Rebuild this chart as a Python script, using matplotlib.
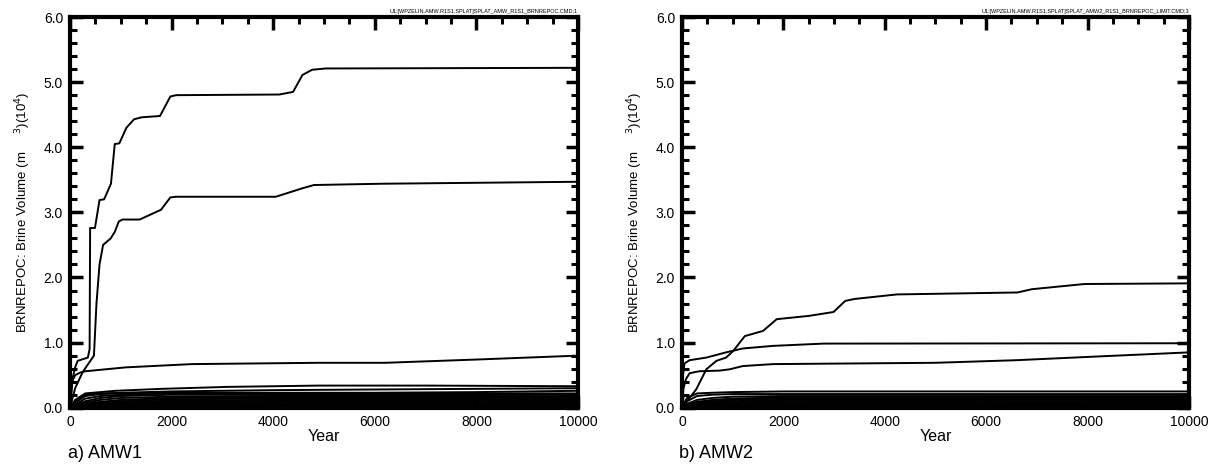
import matplotlib

matplotlib.use("Agg")
import matplotlib.pyplot as plt
from matplotlib.ticker import MultipleLocator

plt.rcParams["font.family"] = ["Liberation Sans", "DejaVu Sans"]

# ---- panel a) AMW1 : the prominent realizations ----
A_TOP_X = [0, 50, 100, 150, 350, 385, 395, 490, 580, 670, 805, 880, 970,
           1110, 1260, 1410, 1770, 1975, 2090, 4120, 4390, 4575, 4765, 5030, 10000]
A_TOP_Y = [0, 0.45, 0.62, 0.72, 0.77, 0.9, 2.76, 2.76, 3.19, 3.20, 3.44, 4.05, 4.06,
           4.30, 4.43, 4.46, 4.48, 4.78, 4.80, 4.81, 4.85, 5.11, 5.19, 5.21, 5.22]
A_SEC_X = [0, 100, 250, 400, 470, 520, 580, 650, 800, 880, 960, 1030, 1370,
           1790, 1975, 2090, 4050, 4575, 4800, 6150, 10000]
A_SEC_Y = [0, 0.3, 0.55, 0.72, 0.8, 1.6, 2.2, 2.5, 2.6, 2.7, 2.86, 2.89, 2.89,
           3.04, 3.23, 3.24, 3.24, 3.37, 3.42, 3.44, 3.47]
A_MID_X = [0, 40, 100, 200, 300, 1100, 2400, 4900, 6200, 8000, 10000]
A_MID_Y = [0, 0.4, 0.5, 0.54, 0.56, 0.62, 0.67, 0.69, 0.69, 0.74, 0.8]
A_LOW1_X = [0, 100, 300, 900, 1800, 3100, 4900, 7000, 10000]
A_LOW1_Y = [0, 0.12, 0.22, 0.26, 0.29, 0.32, 0.34, 0.34, 0.33]

# ---- panel b) AMW2 ----
B_TOP_X = [0, 80, 280, 480, 680, 870, 1010, 1240, 1600, 1870, 2500, 2990,
           3220, 3400, 4240, 6620, 6900, 7940, 10000]
B_TOP_Y = [0, 0.08, 0.28, 0.59, 0.72, 0.77, 0.87, 1.10, 1.18, 1.36, 1.41, 1.47,
           1.64, 1.67, 1.74, 1.77, 1.82, 1.90, 1.91]
B_SEC_X = [0, 20, 50, 150, 480, 870, 1200, 1800, 2800, 10000]
B_SEC_Y = [0, 0.5, 0.68, 0.73, 0.77, 0.85, 0.91, 0.95, 0.985, 0.99]
B_MID_X = [0, 30, 80, 150, 340, 740, 940, 1200, 1800, 5000, 6600, 8000, 10000]
B_MID_Y = [0, 0.3, 0.44, 0.53, 0.56, 0.57, 0.59, 0.64, 0.67, 0.69, 0.73, 0.78, 0.85]

# the bundle of small realizations, sampled at common years
LOW_T = [0, 100, 300, 600, 1000, 2000, 4000, 6000, 8000, 10000]
A_LOW = [
    [0, 0.10, 0.20, 0.22, 0.23, 0.25, 0.27, 0.28, 0.29, 0.30],
    [0, 0.08, 0.18, 0.21, 0.22, 0.23, 0.23, 0.23, 0.24, 0.26],
    [0, 0.05, 0.14, 0.18, 0.20, 0.22, 0.22, 0.22, 0.22, 0.22],
    [0, 0.04, 0.10, 0.15, 0.18, 0.20, 0.20, 0.20, 0.20, 0.21],
    [0, 0.03, 0.08, 0.12, 0.15, 0.17, 0.18, 0.18, 0.18, 0.18],
    [0, 0.02, 0.06, 0.09, 0.12, 0.15, 0.16, 0.16, 0.17, 0.17],
    [0, 0.02, 0.05, 0.08, 0.10, 0.13, 0.14, 0.15, 0.15, 0.15],
    [0, 0.01, 0.04, 0.06, 0.08, 0.11, 0.12, 0.13, 0.13, 0.13],
    [0, 0.01, 0.03, 0.05, 0.07, 0.09, 0.11, 0.11, 0.12, 0.12],
    [0, 0.01, 0.02, 0.04, 0.05, 0.07, 0.09, 0.10, 0.10, 0.11],
    [0, 0.01, 0.02, 0.03, 0.04, 0.06, 0.07, 0.08, 0.09, 0.09],
    [0, 0.00, 0.01, 0.02, 0.03, 0.05, 0.06, 0.07, 0.07, 0.08],
    [0, 0.00, 0.01, 0.02, 0.02, 0.04, 0.05, 0.05, 0.06, 0.06],
    [0, 0.00, 0.01, 0.01, 0.02, 0.03, 0.04, 0.04, 0.04, 0.05],
    [0, 0.00, 0.00, 0.01, 0.01, 0.02, 0.02, 0.03, 0.03, 0.03],
    [0, 0.00, 0.00, 0.00, 0.01, 0.01, 0.01, 0.02, 0.02, 0.02],
]
B_LOW = [
    [0, 0.15, 0.22, 0.23, 0.24, 0.25, 0.25, 0.25, 0.25, 0.25],
    [0, 0.10, 0.18, 0.20, 0.21, 0.21, 0.21, 0.21, 0.21, 0.21],
    [0, 0.06, 0.12, 0.15, 0.17, 0.18, 0.18, 0.18, 0.18, 0.18],
    [0, 0.04, 0.09, 0.12, 0.14, 0.16, 0.16, 0.16, 0.16, 0.16],
    [0, 0.03, 0.07, 0.10, 0.12, 0.14, 0.14, 0.15, 0.15, 0.15],
    [0, 0.02, 0.06, 0.08, 0.10, 0.12, 0.13, 0.13, 0.13, 0.13],
    [0, 0.02, 0.04, 0.06, 0.08, 0.10, 0.11, 0.12, 0.12, 0.12],
    [0, 0.01, 0.03, 0.05, 0.07, 0.09, 0.10, 0.10, 0.10, 0.11],
    [0, 0.01, 0.02, 0.04, 0.05, 0.07, 0.08, 0.09, 0.09, 0.09],
    [0, 0.01, 0.02, 0.03, 0.04, 0.06, 0.07, 0.07, 0.08, 0.08],
    [0, 0.00, 0.01, 0.02, 0.03, 0.04, 0.05, 0.06, 0.06, 0.06],
    [0, 0.00, 0.01, 0.01, 0.02, 0.03, 0.04, 0.04, 0.05, 0.05],
    [0, 0.00, 0.00, 0.01, 0.01, 0.02, 0.03, 0.03, 0.03, 0.03],
    [0, 0.00, 0.00, 0.00, 0.01, 0.01, 0.01, 0.02, 0.02, 0.02],
]

PANELS = [
    dict(rect=[0.0579, 0.138, 0.4198, 0.826],
         big=[(A_TOP_X, A_TOP_Y), (A_SEC_X, A_SEC_Y), (A_MID_X, A_MID_Y),
              (A_LOW1_X, A_LOW1_Y)],
         low=A_LOW, caption="a) AMW1",
         header="U1:[WPZELIN.AMW.R1S1.SPLAT]SPLAT_AMW_R1S1_BRNREPOC.CMD;1"),
    dict(rect=[0.5636, 0.138, 0.4190, 0.826],
         big=[(B_TOP_X, B_TOP_Y), (B_SEC_X, B_SEC_Y), (B_MID_X, B_MID_Y)],
         low=B_LOW, caption="b) AMW2",
         header="U1:[WPZELIN.AMW.R1S1.SPLAT]SPLAT_AMW2_R1S1_BRNREPOC_LIMIT.CMD;3"),
]

fig = plt.figure(figsize=(12.1, 4.73), dpi=100)

for p in PANELS:
    ax = fig.add_axes(p["rect"])
    for x, y in p["big"]:
        ax.plot(x, y, color="black", lw=1.4)
    for y in p["low"]:
        ax.plot(LOW_T, y, color="black", lw=1.4)

    ax.set_xlim(0, 10000)
    ax.set_ylim(0, 6.0)
    ax.xaxis.set_major_locator(MultipleLocator(2000))
    ax.xaxis.set_minor_locator(MultipleLocator(500))
    ax.yaxis.set_major_locator(MultipleLocator(1.0))
    ax.yaxis.set_minor_locator(MultipleLocator(0.2))
    ax.yaxis.set_major_formatter(lambda v, pos: f"{v:.1f}")
    ax.tick_params(which="both", direction="in", top=True, right=True,
                   labelsize=10, pad=5)
    ax.tick_params(which="major", length=9, width=2.5)
    ax.tick_params(which="minor", length=5, width=2.2)
    for s in ax.spines.values():
        s.set_linewidth(3)

    ax.set_xlabel("Year", fontsize=11.5, labelpad=0)
    ax.set_ylabel(r"BRNREPOC: Brine Volume (m     $^3$)(10$^4$)",
                  fontsize=9.5, labelpad=8)
    ax.text(1.0, 1.008, p["header"], transform=ax.transAxes,
            ha="right", va="bottom", fontsize=4)
    ax.text(-0.005, -0.095, p["caption"], transform=ax.transAxes,
            ha="left", va="top", fontsize=13)

fig.savefig("out.png", dpi=100)
